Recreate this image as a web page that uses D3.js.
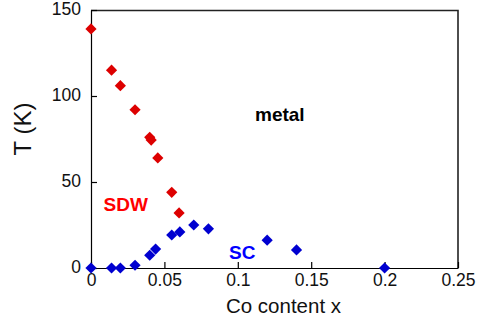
<!DOCTYPE html>
<html>
<head>
<meta charset="utf-8">
<script src="https://cdn.jsdelivr.net/npm/d3@7"></script>
<style>
  html, body { margin: 0; padding: 0; background: #fff; }
  svg { display: block; font-family: "Liberation Sans", Arial, sans-serif; }
</style>
</head>
<body>
<svg id="chart" width="477" height="321"></svg>
<script>
// Spin-density-wave transition temperature vs Co content
const sdwX = [0, 0.014, 0.02, 0.03, 0.04, 0.041, 0.0455, 0.055, 0.06];
const sdwT = [139, 115, 106, 92, 76, 74.4, 64, 44, 32];

// Superconducting transition temperature vs Co content
const scX = [0, 0.014, 0.02, 0.03, 0.04, 0.044, 0.055, 0.0605, 0.07, 0.08, 0.12, 0.14, 0.2];
const scT = [0, 0, 0, 1.6, 7.4, 11, 19.2, 21, 25, 22.8, 16.2, 10.5, 0];

const xTicks = [0, 0.05, 0.1, 0.15, 0.2, 0.25];
const xTickLabels = ["0", "0.05", "0.1", "0.15", "0.2", "0.25"];
const yTicks = [0, 50, 100, 150];
const yTickLabels = ["0", "50", "100", "150"];

const svg = d3.select("#chart");
const plotLeft = 91, plotRight = 458, plotTop = 10, plotBottom = 268;

const x = d3.scaleLinear().domain([0, 0.25]).range([plotLeft, plotRight]);
const y = d3.scaleLinear().domain([0, 150]).range([plotBottom, plotTop]);

// frame: top and right edges
svg.append("path")
  .attr("d", `M${plotLeft},${plotTop + 0.5}H${plotRight}V${plotBottom}`)
  .attr("fill", "none").attr("stroke", "#222").attr("stroke-width", 1.6);

// axes with inward ticks
const xAxis = d3.axisBottom(x).tickValues(xTicks)
  .tickFormat((d, i) => xTickLabels[i]).tickSizeInner(-6).tickSizeOuter(0).tickPadding(13);
const gx = svg.append("g").attr("transform", `translate(0,${plotBottom})`).call(xAxis);

const yAxis = d3.axisLeft(y).tickValues(yTicks)
  .tickFormat((d, i) => yTickLabels[i]).tickSizeInner(-6).tickSizeOuter(0).tickPadding(10);
const gy = svg.append("g").attr("transform", `translate(${plotLeft},0)`).call(yAxis);

[gx, gy].forEach(g => {
  g.select(".domain").attr("stroke", "#000").attr("stroke-width", 1.2);
  g.selectAll(".tick line").attr("stroke", "#000").attr("stroke-width", 1.2);
  g.selectAll(".tick text").attr("fill", "#111")
    .style("font-family", "'Liberation Sans', Arial, sans-serif").style("font-size", "17.5px");
});
gx.selectAll(".tick text").attr("dy", "0.3em");
gy.selectAll(".tick text").attr("dy", "0.28em");

// axis titles
svg.append("text").attr("x", (225 + 342) / 2).attr("y", 313)
  .attr("text-anchor", "middle").attr("font-size", 20.5).attr("fill", "#111")
  .text("Co content x");
svg.append("text").attr("transform", `translate(31,129) rotate(-90)`)
  .attr("text-anchor", "middle").attr("font-size", 24).attr("fill", "#111")
  .text("T (K)");

// diamond markers
const r = 5.6;
const diamond = `M0,${-r}L${r},0L0,${r}L${-r},0Z`;

svg.append("g").selectAll("path")
  .data(d3.range(sdwX.length)).join("path")
  .attr("d", diamond)
  .attr("transform", i => `translate(${x(sdwX[i])},${y(sdwT[i])})`)
  .attr("fill", "#dd0000");

svg.append("g").selectAll("path")
  .data(d3.range(scX.length)).join("path")
  .attr("d", diamond)
  .attr("transform", i => `translate(${x(scX[i])},${y(scT[i])})`)
  .attr("fill", "#0000d0");

// phase labels
svg.append("text").attr("x", 255).attr("y", 121)
  .attr("font-size", 19).attr("font-weight", "bold").attr("fill", "#000").text("metal");
svg.append("text").attr("x", 103.5).attr("y", 211)
  .attr("font-size", 19).attr("font-weight", "bold").attr("fill", "#ff0000").text("SDW");
svg.append("text").attr("x", 229).attr("y", 259)
  .attr("font-size", 19).attr("font-weight", "bold").attr("fill", "#0000ff").text("SC");
</script>
</body>
</html>
